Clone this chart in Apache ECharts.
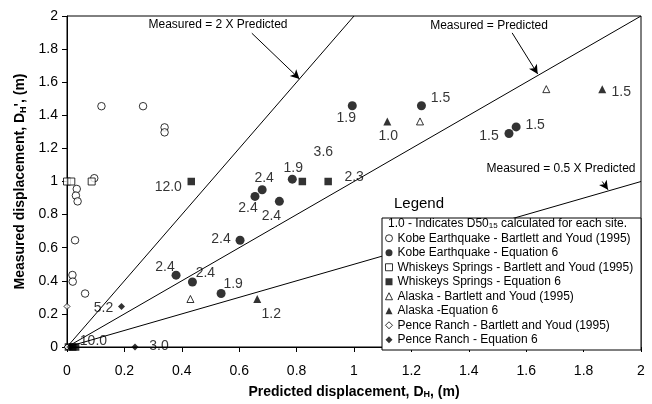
<!DOCTYPE html>
<html>
<head>
<meta charset="utf-8">
<script src="https://cdn.jsdelivr.net/npm/echarts@6.0.0/dist/echarts.min.js"></script>
<style>html,body{margin:0;padding:0;background:#fff}#c{width:652px;height:404px}</style>
</head>
<body>
<div id="c"></div>
<script>
// ---- data ----
const kobeBY = [[0.12,1.455],[0.265,1.455],[0.34,1.327],[0.34,1.297],[0.095,1.02],[0.034,0.955],[0.031,0.915],[0.037,0.88],[0.028,0.645],[0.019,0.435],[0.02,0.395],[0.063,0.323]];
const kobeEq = [[0.785,1.014],[0.68,0.95],[0.655,0.91],[0.74,0.88],[0.603,0.645],[0.38,0.434],[0.437,0.393],[0.537,0.323],[0.994,1.458],[1.235,1.458],[1.54,1.29],[1.565,1.33]];
const kobeEqD50 = ['1.9','2.4','2.4','2.4','2.4','2.4','2.4','1.9','1.9','1.5','1.5','1.5'];
const wsBY = [[0.0,1.0],[0.015,1.0],[0.086,1.0]];
const wsEq = [[0.433,1.0],[0.82,1.0],[0.91,1.0],[0.005,0],[0.02,0],[0.03,0]];
const wsEqD50 = ['12.0','3.6','2.3','10.0','',''];
const alaskaBY = [[0.43,0.29],[1.23,1.363],[1.67,1.558]];
const alaskaEq = [[0.663,0.29],[1.116,1.363],[1.865,1.558]];
const alaskaEqD50 = ['1.2','1.0','1.5'];
const penceBY = [[0,0.245],[0,0]];
const penceEq = [[0.19,0.245],[0.237,0],[0.012,0]];
const penceEqD50 = ['5.2','3.0',''];
const ratioLines = [{name:'Measured = 2 X Predicted', ratio:2},{name:'Measured = Predicted', ratio:1},{name:'Measured = 0.5 X Predicted', ratio:0.5}];
const seriesNames = ['Kobe Earthquake - Bartlett and Youd (1995)','Kobe Earthquake - Equation 6','Whiskeys Springs - Bartlett and Youd (1995)','Whiskeys Springs - Equation 6','Alaska - Bartlett and Youd (1995)','Alaska -Equation 6','Pence Ranch - Bartlett and Youd (1995)','Pence Ranch - Equation 6'];
const axisMin = 0, axisMax = 2, axisStep = 0.2;

// ---- styling (label placement offsets in px) ----
const kobeEqOff = [[1,-11],[2,-12],[-7,12],[-8,15],[-19,-1],[-11,-8],[13,-9],[12,-9],[-6,12],[19,-8],[-20,3],[19,-2]];
const wsEqOff = [[-23,6],[21,-29],[26,-4],[25,-6],[0,0],[0,0]];
const alaskaEqOff = [[14,15],[1,15],[19,3]];
const penceEqOff = [[-18,2],[24,-1],[0,0]];
const seriesSymbols = ['circle','circle','rect','rect','triangle','triangle','diamond','diamond'];

const FONT = '"Liberation Sans", Arial, sans-serif';
const open = {color:'#fff', borderColor:'#000', borderWidth:1};
const fill = {color:'#000', borderColor:'#000', borderWidth:0};
const seriesStyles = [open, fill, open, fill, open, fill, open, fill];

function labeled(data, texts, offs){
  return data.map((d,i)=>({value:d, label:{show:!!texts[i], formatter:texts[i], position:'inside', offset:offs[i]}}));
}
function scat(i, data, size){
  return {type:'scatter', name:seriesNames[i], data, symbol:seriesSymbols[i], symbolSize:size, itemStyle:seriesStyles[i], z:3,
    label:{show:false, color:'#000', fontFamily:FONT, fontSize:14}, emphasis:{disabled:true}};
}
const series = [];
ratioLines.forEach(r=>{
  const xEnd = Math.min(axisMax, axisMax/r.ratio);
  series.push({type:'line', data:[[0,0],[xEnd,xEnd*r.ratio]], symbol:'none', silent:true,
    lineStyle:{color:'#000', width:1}, z:1});
});
series.push(scat(0, kobeBY, 7.5));
series.push(scat(1, labeled(kobeEq,kobeEqD50,kobeEqOff), 9));
series.push(scat(2, wsBY, 7));
series.push(scat(3, labeled(wsEq,wsEqD50,wsEqOff), 7.5));
series.push(scat(4, alaskaBY, 7));
series.push(scat(5, labeled(alaskaEq,alaskaEqD50,alaskaEqOff), 8));
series.push(scat(6, penceBY, 6));
series.push(scat(7, labeled(penceEq,penceEqD50,penceEqOff), 7));
// arrows for annotations (data coordinates)
series[0].markLine = {silent:true, symbol:['none','arrow'], symbolSize:[7,9], animation:false,
  lineStyle:{color:'#000', width:1, type:'solid'}, label:{show:false},
  data:[
    [{coord:[0.644,1.896]},{coord:[0.81,1.62]}],
    [{coord:[1.551,1.898]},{coord:[1.64,1.65]}],
    [{coord:[1.865,1.0]},{coord:[1.885,0.95]}]
  ]};

const axisCommon = {
  min:axisMin, max:axisMax, interval:axisStep,
  axisLine:{show:true, lineStyle:{color:'#000', width:1}},
  axisTick:{show:true, length:5, lineStyle:{color:'#000'}},
  splitLine:{show:false},
  nameTextStyle:{fontFamily:FONT, fontSize:14, fontWeight:'bold', color:'#000',
    rich:{sub:{fontFamily:FONT, fontSize:9, fontWeight:'bold', lineHeight:10, verticalAlign:'bottom', color:'#000'}}}
};
const option = {
  animation:false,
  textStyle:{fontFamily:FONT},
  grid:{left:67, right:11, top:16, bottom:56, show:true, borderColor:'#000', borderWidth:1},
  xAxis:Object.assign({}, axisCommon, {type:'value', name:'Predicted displacement, D{sub|H}, (m)', nameLocation:'middle', nameGap:38,
    axisLabel:{color:'#000', fontFamily:FONT, fontSize:14, margin:17}}),
  yAxis:Object.assign({}, axisCommon, {type:'value', name:"Measured displacement, D{sub|H}', (m)", nameLocation:'middle', nameGap:39,
    axisLabel:{color:'#000', fontFamily:FONT, fontSize:14, margin:9}}),
  legend:{data:seriesNames.map((n,i)=>({name:n, icon:seriesSymbols[i], itemStyle:seriesStyles[i]})),
    orient:'vertical', left:385, top:231, padding:0, itemGap:0, itemWidth:7, itemHeight:7,
    textStyle:{fontFamily:FONT, fontSize:12, color:'#000', lineHeight:14.5}, selectedMode:false, z:20},
  graphic:[
    {type:'rect', shape:{x:382, y:218, width:259, height:132}, style:{fill:'#fff', stroke:'#000', lineWidth:1}, z:10},
    {type:'text', x:388, y:224, z:21, style:{text:'1.0 - Indicates D50{sub|15} calculated for each site.', fill:'#000', font:'12px '+FONT, verticalAlign:'middle',
      rich:{sub:{fontSize:8, fontFamily:FONT, lineHeight:9, verticalAlign:'bottom', fill:'#000'}}}},
    {type:'text', x:419, y:204, z:21, style:{text:'Legend', fill:'#000', font:'15px '+FONT, align:'center', verticalAlign:'middle'}},
    {type:'text', x:218, y:25, z:21, style:{text:ratioLines[0].name, fill:'#000', font:'12px '+FONT, align:'center', verticalAlign:'middle'}},
    {type:'text', x:489, y:26, z:21, style:{text:ratioLines[1].name, fill:'#000', font:'12px '+FONT, align:'center', verticalAlign:'middle'}},
    {type:'text', x:561, y:169, z:21, style:{text:ratioLines[2].name, fill:'#000', font:'12px '+FONT, align:'center', verticalAlign:'middle'}}
  ],
  series
};
echarts.init(document.getElementById('c'), null, {renderer:'canvas'}).setOption(option);
</script>
</body>
</html>
